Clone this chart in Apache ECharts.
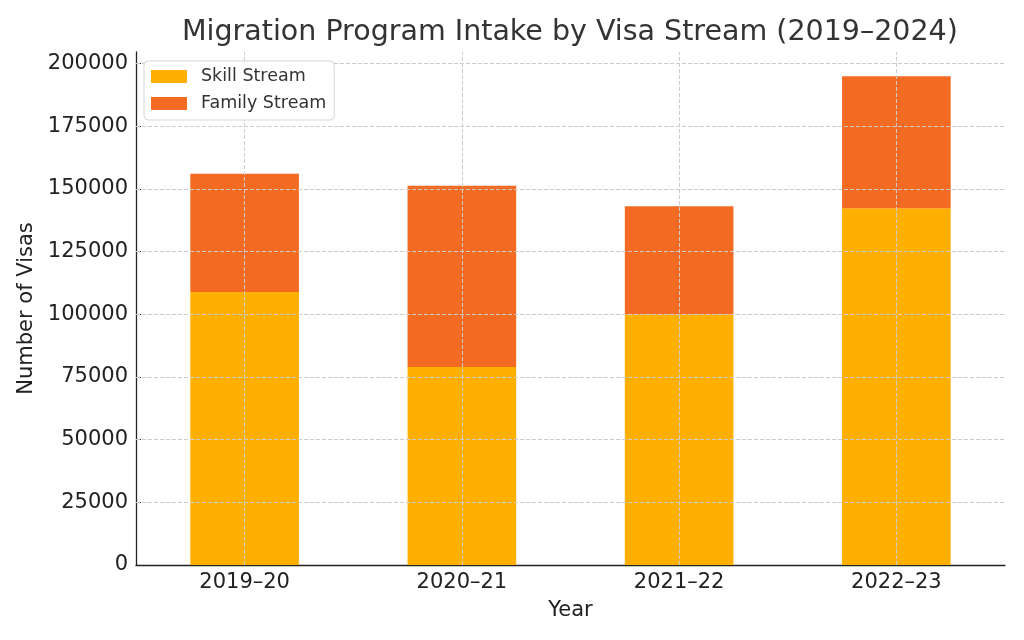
<!DOCTYPE html>
<html lang="en">
<head>
    <meta charset="UTF-8">
    <title>Migration Program Intake by Visa Stream</title>
    <script src="https://cdn.jsdelivr.net/npm/echarts@6/dist/echarts.min.js"></script>
    <style>
        html, body { margin: 0; padding: 0; background: #fff; }
        #chart { width: 1024px; height: 640px; }
    </style>
</head>
<body>
    <div id="chart"></div>
    <script>
        // data
        var years = ['2019–20', '2020–21', '2021–22', '2022–23'];
        var skillStream = [108900, 79000, 100000, 142300];
        var familyStream = [47100, 72300, 43100, 52600];
        var yTicks = [0, 25000, 50000, 75000, 100000, 125000, 150000, 175000, 200000];

        var font = 'DejaVu Sans';
        var gridLine = { color: '#cccccc', width: 1, type: [4, 2] };

        // matplotlib style grid drawn above the bars
        var gridMarks = [];
        yTicks.slice(1).forEach(function (v) { gridMarks.push({ yAxis: v }); });
        years.forEach(function (y) { gridMarks.push({ xAxis: y }); });

        var chart = echarts.init(document.getElementById('chart'));
        var option = {
            animation: false,
            textStyle: { fontFamily: font },
            title: {
                text: 'Migration Program Intake by Visa Stream (2019–2024)',
                left: 177,
                top: 13,
                textStyle: { fontFamily: font, fontSize: 28.5, fontWeight: 'normal', color: '#333333' }
            },
            legend: {
                orient: 'vertical',
                left: 144,
                top: 61,
                z: 100,
                padding: [6, 8, 7, 7],
                itemGap: 8,
                itemWidth: 36,
                itemHeight: 13,
                icon: 'rect',
                borderColor: '#d5d5d5',
                borderWidth: 1,
                borderRadius: 4,
                backgroundColor: '#ffffff',
                textStyle: { fontFamily: font, fontSize: 17.5, lineHeight: 19, color: '#333333', padding: [0, 0, 0, 9] },
                data: ['Skill Stream', 'Family Stream']
            },
            grid: { left: 136, right: 19, top: 52, bottom: 75 },
            xAxis: {
                type: 'category',
                data: years,
                name: 'Year',
                nameLocation: 'middle',
                nameGap: 35,
                nameTextStyle: { fontFamily: font, fontSize: 21, color: '#222222' },
                axisLine: { lineStyle: { color: '#222222', width: 1.3 } },
                axisTick: { alignWithLabel: true, inside: true, length: 5, lineStyle: { color: '#222222' } },
                axisLabel: { fontFamily: font, fontSize: 21, color: '#222222', margin: 7 },
                splitLine: { show: false }
            },
            yAxis: {
                type: 'value',
                min: 0,
                max: 204600,
                interval: 25000,
                name: 'Number of Visas',
                nameLocation: 'middle',
                nameGap: 93,
                nameTextStyle: { fontFamily: font, fontSize: 21, color: '#222222' },
                axisLine: { show: true, lineStyle: { color: '#222222', width: 1.3 } },
                axisTick: { show: true, inside: true, length: 5, customValues: yTicks, lineStyle: { color: '#222222' } },
                axisLabel: {
                    fontFamily: font, fontSize: 21, color: '#222222', margin: 8, customValues: yTicks,
                    formatter: function (v) { return String(v); }
                },
                splitLine: { show: false }
            },
            series: [
                {
                    name: 'Skill Stream',
                    type: 'bar',
                    stack: 'total',
                    barWidth: '50%',
                    itemStyle: { color: '#FFAF00' },
                    data: skillStream
                },
                {
                    name: 'Family Stream',
                    type: 'bar',
                    stack: 'total',
                    barWidth: '50%',
                    itemStyle: { color: '#F36B23' },
                    data: familyStream,
                    markLine: {
                        silent: true,
                        symbol: ['none', 'none'],
                        label: { show: false },
                        lineStyle: gridLine,
                        data: gridMarks
                    }
                }
            ]
        };
        chart.setOption(option);
    </script>
</body>
</html>
